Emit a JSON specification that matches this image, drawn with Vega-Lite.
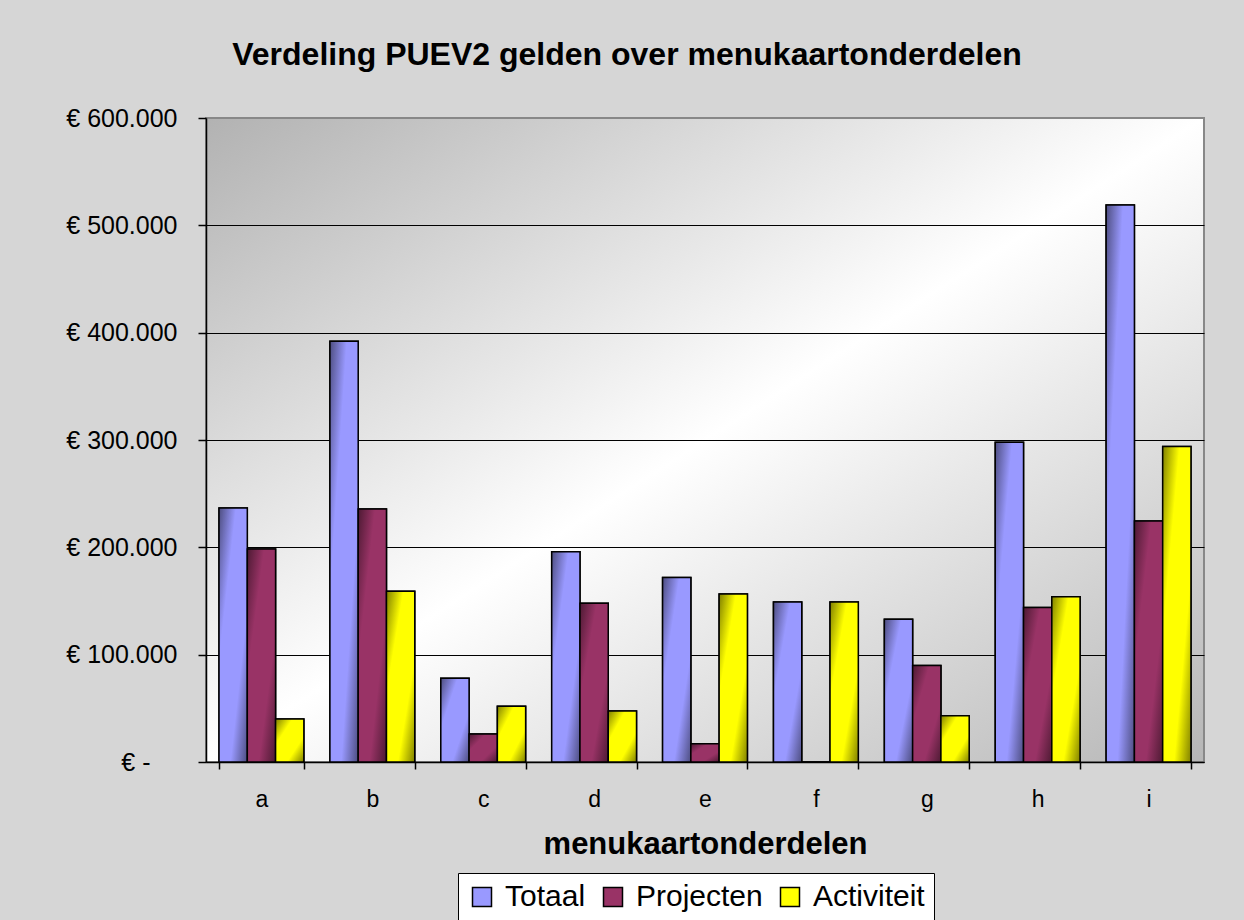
{
  "$schema": "https://vega.github.io/schema/vega-lite/v6.json",
  "autosize": {"type": "none"},
  "width": 998,
  "height": 644,
  "padding": {"left": 206, "top": 118, "right": 40, "bottom": 158},
  "background": "#d6d6d6",
  "title": {
    "text": "Verdeling PUEV2 gelden over menukaartonderdelen",
    "font": "Liberation Sans",
    "fontSize": 32,
    "fontWeight": "bold",
    "color": "#000000",
    "anchor": "middle",
    "baseline": "alphabetic",
    "dx": -78,
    "offset": 9
  },
  "config": {
    "font": "Liberation Sans",
    "view": {
      "stroke": "#888888",
      "strokeWidth": 2,
      "fill": {
        "gradient": "linear",
        "x1": 0, "y1": 0, "x2": 1, "y2": 1,
        "stops": [
          {"offset": 0, "color": "#b2b2b2"},
          {"offset": 0.5, "color": "#ffffff"},
          {"offset": 1, "color": "#b6b6b6"}
        ]
      }
    }
  },
  "data": {
    "values": [
      {"onderdeel": "a", "reeks": "Totaal", "bedrag": 236600},
      {"onderdeel": "a", "reeks": "Projecten", "bedrag": 198500},
      {"onderdeel": "a", "reeks": "Activiteit", "bedrag": 40000},
      {"onderdeel": "b", "reeks": "Totaal", "bedrag": 392000},
      {"onderdeel": "b", "reeks": "Projecten", "bedrag": 235700},
      {"onderdeel": "b", "reeks": "Activiteit", "bedrag": 159000},
      {"onderdeel": "c", "reeks": "Totaal", "bedrag": 78000},
      {"onderdeel": "c", "reeks": "Projecten", "bedrag": 26000},
      {"onderdeel": "c", "reeks": "Activiteit", "bedrag": 52000},
      {"onderdeel": "d", "reeks": "Totaal", "bedrag": 196000},
      {"onderdeel": "d", "reeks": "Projecten", "bedrag": 148000},
      {"onderdeel": "d", "reeks": "Activiteit", "bedrag": 47500},
      {"onderdeel": "e", "reeks": "Totaal", "bedrag": 172000},
      {"onderdeel": "e", "reeks": "Projecten", "bedrag": 17000},
      {"onderdeel": "e", "reeks": "Activiteit", "bedrag": 156500},
      {"onderdeel": "f", "reeks": "Totaal", "bedrag": 149000},
      {"onderdeel": "f", "reeks": "Projecten", "bedrag": 0},
      {"onderdeel": "f", "reeks": "Activiteit", "bedrag": 149000},
      {"onderdeel": "g", "reeks": "Totaal", "bedrag": 133000},
      {"onderdeel": "g", "reeks": "Projecten", "bedrag": 90000},
      {"onderdeel": "g", "reeks": "Activiteit", "bedrag": 43000},
      {"onderdeel": "h", "reeks": "Totaal", "bedrag": 298000},
      {"onderdeel": "h", "reeks": "Projecten", "bedrag": 144000},
      {"onderdeel": "h", "reeks": "Activiteit", "bedrag": 154000},
      {"onderdeel": "i", "reeks": "Totaal", "bedrag": 519000},
      {"onderdeel": "i", "reeks": "Projecten", "bedrag": 224500},
      {"onderdeel": "i", "reeks": "Activiteit", "bedrag": 294000}
    ]
  },
  "encoding": {
    "x": {
      "field": "onderdeel",
      "type": "nominal",
      "scale": {"paddingInner": 0.235, "paddingOuter": 0.1175},
      "title": "menukaartonderdelen",
      "axis": {
        "labelAngle": 0,
        "labelFont": "Liberation Sans",
        "labelFontSize": 23,
        "labelColor": "#000000",
        "labelPadding": 19,
        "domainColor": "#000000",
        "domainWidth": 1.5,
        "tickColor": "#000000",
        "tickWidth": 1.5,
        "tickSize": 7,
        "tickBand": "extent",
        "titleFont": "Liberation Sans",
        "titleFontSize": 31,
        "titleFontWeight": "bold",
        "titleColor": "#000000",
        "titlePadding": 18
      }
    },
    "xOffset": {
      "field": "reeks",
      "type": "nominal",
      "sort": ["Totaal", "Projecten", "Activiteit"],
      "scale": {"paddingInner": 0, "paddingOuter": 0}
    },
    "y": {
      "field": "bedrag",
      "type": "quantitative",
      "scale": {"domain": [0, 600000], "nice": false},
      "title": null,
      "axis": {
        "values": [0, 100000, 200000, 300000, 400000, 500000, 600000],
        "labelExpr": "datum.value === 0 ? '€ -' : '€ ' + (datum.value / 1000) + '.000'",
        "labelFont": "Liberation Sans",
        "labelFontSize": 25,
        "labelColor": "#000000",
        "labelPadding": {"condition": {"test": "datum.value === 0", "value": 48}, "value": 21},
        "tickSize": 8,
        "tickColor": "#000000",
        "tickWidth": 1.5,
        "domainColor": "#000000",
        "domainWidth": 1.5,
        "grid": true,
        "gridColor": {"condition": {"test": "datum.value === 600000", "value": "#888888"}, "value": "#000000"},
        "gridWidth": 1.2
      }
    }
  },
  "layer": [
    {
      "mark": {"type": "bar", "stroke": "#000000", "strokeWidth": 1.5, "opacity": 1},
      "encoding": {
        "color": {
          "field": "reeks",
          "type": "nominal",
          "sort": ["Totaal", "Projecten", "Activiteit"],
          "scale": {"domain": ["Totaal", "Projecten", "Activiteit"], "range": ["#9999FF", "#993366", "#FFFF00"]},
          "legend": {
            "title": null,
            "orient": "none",
            "legendX": 252,
            "legendY": 755,
            "direction": "horizontal",
            "fillColor": "#ffffff",
            "strokeColor": "#000000",
            "padding": 9,
            "symbolType": "square",
            "symbolSize": 361,
            "symbolStrokeColor": "#000000",
            "symbolStrokeWidth": 1.5,
            "symbolOpacity": 1,
            "labelFont": "Liberation Sans",
            "labelFontSize": 30,
            "labelColor": "#000000",
            "labelOffset": 8,
            "columnPadding": 12,
            "labelLimit": 400
          }
        }
      }
    },
    {
      "transform": [{"filter": "datum.reeks === 'Totaal'"}],
      "mark": {
        "type": "bar",
        "stroke": "#000000",
        "strokeWidth": 1.5,
        "fill": {
          "gradient": "linear", "x1": 0, "y1": 0, "x2": 1, "y2": 1,
          "stops": [
            {"offset": 0, "color": "#4d4d80"},
            {"offset": 0.3, "color": "#9999ff"},
            {"offset": 0.7, "color": "#9999ff"},
            {"offset": 1, "color": "#4d4d80"}
          ]
        }
      },
      "encoding": {}
    },
    {
      "transform": [{"filter": "datum.reeks === 'Projecten'"}],
      "mark": {
        "type": "bar",
        "stroke": "#000000",
        "strokeWidth": 1.5,
        "fill": {
          "gradient": "linear", "x1": 0, "y1": 0, "x2": 1, "y2": 1,
          "stops": [
            {"offset": 0, "color": "#4d1a33"},
            {"offset": 0.3, "color": "#993366"},
            {"offset": 0.7, "color": "#993366"},
            {"offset": 1, "color": "#4d1a33"}
          ]
        }
      },
      "encoding": {}
    },
    {
      "transform": [{"filter": "datum.reeks === 'Activiteit'"}],
      "mark": {
        "type": "bar",
        "stroke": "#000000",
        "strokeWidth": 1.5,
        "fill": {
          "gradient": "linear", "x1": 0, "y1": 0, "x2": 1, "y2": 1,
          "stops": [
            {"offset": 0, "color": "#808000"},
            {"offset": 0.3, "color": "#ffff00"},
            {"offset": 0.7, "color": "#ffff00"},
            {"offset": 1, "color": "#808000"}
          ]
        }
      },
      "encoding": {}
    }
  ]
}
